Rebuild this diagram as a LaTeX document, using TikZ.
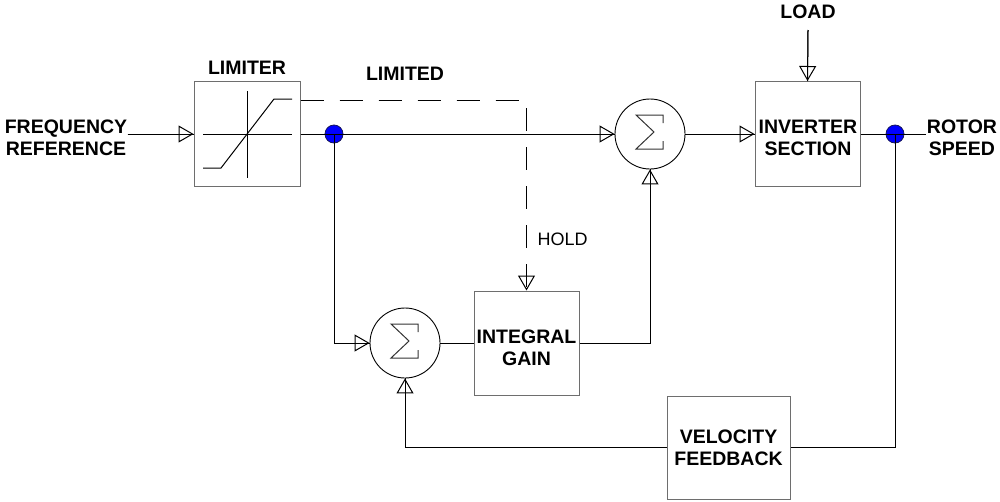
\documentclass[tikz,border=0pt]{standalone}
\usepackage{fontspec}
\setmainfont{Liberation Sans}
\usetikzlibrary{arrows.meta}
\definecolor{boxgray}{RGB}{110,110,110}
\definecolor{dotblue}{RGB}{0,0,255}
\definecolor{dotedge}{RGB}{20,20,90}
\begin{document}
\begin{tikzpicture}[x=1pt,y=-1pt,line width=1pt,
  lbl/.style={font=\fontsize{19.5}{22}\selectfont\bfseries,align=center,inner sep=0pt},
  plainlbl/.style={font=\fontsize{18}{21}\selectfont,inner sep=0pt},
  blk/.style={draw=boxgray,fill=white,line width=1pt,inner sep=0pt},
  sumnode/.style={circle,draw=black,line width=0.9pt,minimum size=70pt,inner sep=0pt},
  tap/.style={circle,fill=dotblue,draw=dotedge,line width=0.8pt,minimum size=18pt,inner sep=0pt},
  tipline/.style={-{Triangle[open,length=15pt,width=17pt]},postaction={draw,-}},
  dsh/.style={dash pattern=on 23pt off 16pt},
  sigmasym/.pic={\draw[line width=1pt,black!80] (13,-11) -- (13,-19) -- (-14,-19) -- (4,-2) -- (-14,15) -- (13,15) -- (13,7);}
]
\useasboundingbox (0,0) rectangle (1000,501);

% blocks
\node[blk,minimum width=106pt,minimum height=105pt] (lim) at (247,134) {};
\node[blk,minimum width=105pt,minimum height=105pt] (inv) at (807.5,134) {};
\node[blk,minimum width=105pt,minimum height=104pt] (integ) at (526.5,343) {};
\node[blk,minimum width=123pt,minimum height=103pt] (vel) at (728.5,447.5) {};

% limiter characteristic
\draw (247,91) -- (247,178);
\draw (203,134) -- (292,134);
\draw (203,168) -- (221,168) -- (274,99) -- (292,99);

% summing junctions
\node[sumnode] (sum1) at (650,134) {};
\node[sumnode] (sum2) at (405,343) {};
\pic at (sum1.center) {sigmasym};
\pic at (sum2.center) {sigmasym};

% pick-off dots
\node[tap] (d1) at (334,134) {};
\node[tap] (d2) at (895,134) {};

% texts
\node[lbl] (freq) at (66,138) {FREQUENCY\\REFERENCE};
\node[lbl] (limt) at (247,67.5) {LIMITER};
\node[lbl] (limd) at (405,73.5) {LIMITED};
\node[lbl] (load) at (808,11.5) {LOAD};
\node[lbl] (invt) at (808,138) {INVERTER\\SECTION};
\node[lbl] (rot) at (962,138) {ROTOR\\SPEED};
\node[lbl] (integt) at (526.5,347.5) {INTEGRAL\\GAIN};
\node[lbl] (velt) at (728.5,447.5) {VELOCITY\\FEEDBACK};
\node[plainlbl,anchor=west] (hold) at (537,239.5) {HOLD};
\coordinate (loadstart) at (808,30);

% connectors
\draw[tipline] (freq.east |- lim.west) -- (lim.west);
\draw[tipline] (lim.east) -- (sum1.west);
\draw[tipline] (d1.center) |- (sum2.west);
\draw (sum2.east) -- (integ.west);
\draw[tipline] (integ.east) -| (sum1.south);
\draw[tipline] (sum1.east) -- (inv.west);
\draw[tipline] (loadstart) -- (inv.north);
\draw (inv.east) -- (rot.west |- inv.east);
\draw (d2.center) |- (vel.east);
\draw[tipline] (vel.west) -| (sum2.south);
\draw[dsh,tipline] (lim.east |- 0,100) -| (integ.north);
\end{tikzpicture}
\end{document}
